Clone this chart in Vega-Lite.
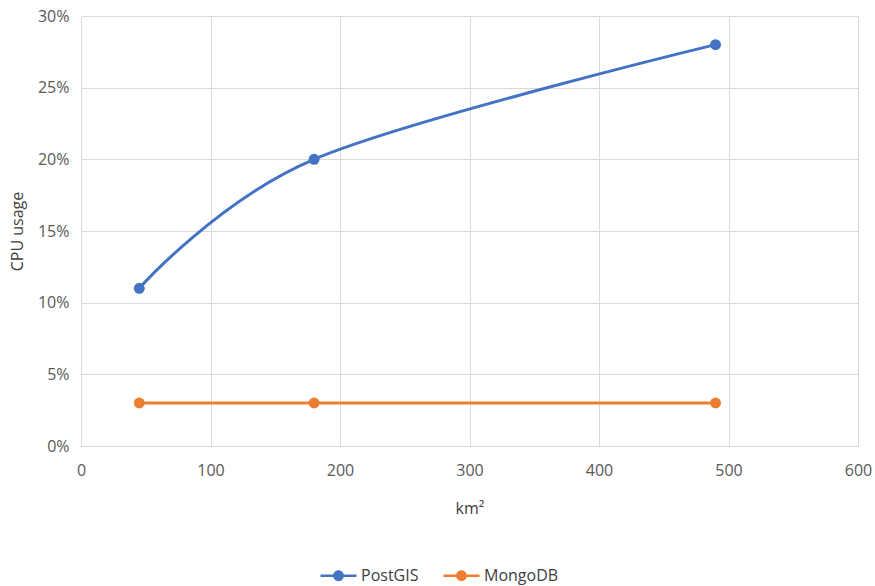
{
  "$schema": "https://vega.github.io/schema/vega-lite/v6.json",
  "width": 777,
  "height": 430,
  "autosize": {"type": "none"},
  "padding": {"left": 81, "top": 16, "right": 17, "bottom": 140},
  "background": "white",
  "config": {
    "font": "Open Sans",
    "view": {"stroke": null},
    "axis": {
      "labelColor": "#595959",
      "titleColor": "#404040",
      "labelFontSize": 16,
      "titleFontSize": 16,
      "titleFontWeight": "normal",
      "gridColor": "#d9d9d9",
      "gridWidth": 1,
      "ticks": false,
      "domain": false,
      "labelFlush": false
    }
  },
  "data": {
    "values": [
      {"km2": 45, "cpu": 0.11, "db": "PostGIS"},
      {"km2": 180, "cpu": 0.20, "db": "PostGIS"},
      {"km2": 490, "cpu": 0.28, "db": "PostGIS"},
      {"km2": 45, "cpu": 0.03, "db": "MongoDB"},
      {"km2": 180, "cpu": 0.03, "db": "MongoDB"},
      {"km2": 490, "cpu": 0.03, "db": "MongoDB"}
    ]
  },
  "encoding": {
    "x": {
      "field": "km2",
      "type": "quantitative",
      "scale": {"domain": [0, 600], "nice": false},
      "axis": {"values": [0, 100, 200, 300, 400, 500, 600], "labelPadding": 16, "titlePadding": 22},
      "title": "km²"
    },
    "y": {
      "field": "cpu",
      "type": "quantitative",
      "scale": {"domain": [0, 0.3], "nice": false},
      "axis": {"format": ".0%", "values": [0, 0.05, 0.1, 0.15, 0.2, 0.25, 0.3], "labelPadding": 12, "titlePadding": 12},
      "title": "CPU usage"
    },
    "color": {
      "field": "db",
      "type": "nominal",
      "scale": {"domain": ["PostGIS", "MongoDB"], "range": ["#4472c4", "#ed7d31"]},
      "legend": {
        "title": null,
        "orient": "none",
        "direction": "horizontal",
        "legendX": 239,
        "legendY": 541,
        "labelFontSize": 16,
        "labelColor": "#404040",
        "symbolType": "M-1,-0.07H1V0.07H-1Z M-0.3,0A0.3,0.3 0 1,1 0.3,0A0.3,0.3 0 1,1 -0.3,0Z",
        "symbolSize": 1300,
        "symbolStrokeWidth": 0,
        "symbolOpacity": 1,
        "labelOffset": 4,
        "columnPadding": 24
      }
    }
  },
  "layer": [
    {
      "mark": {"type": "line", "interpolate": "cardinal", "strokeWidth": 3}
    },
    {
      "mark": {"type": "point", "filled": true, "opacity": 1, "size": 120}
    }
  ]
}
